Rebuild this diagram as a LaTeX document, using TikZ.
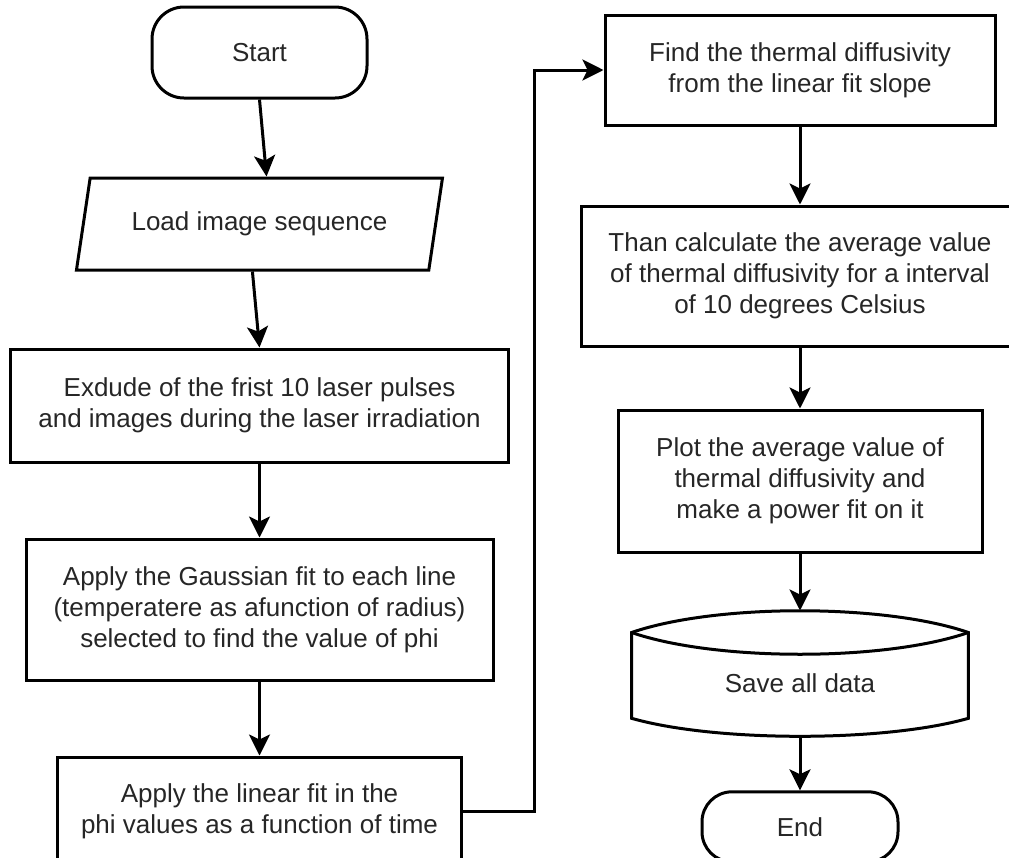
\documentclass[tikz,border=0pt]{standalone}
\usepackage{fontspec}
\setmainfont{Liberation Sans}
\usetikzlibrary{positioning, shapes.geometric, arrows.meta, calc}

\begin{document}
\begin{tikzpicture}[
    % Styles
    terminal/.style={
        rectangle,
        rounded corners=16pt,
        draw,
        line width=1.5pt,
        text=black!85,
        font=\fontsize{13}{15.5}\selectfont
    },
    io/.style={
        trapezium,
        trapezium left angle=70,
        trapezium right angle=110,
        trapezium stretches body,
        draw,
        line width=1.5pt,
        text=black!85,
        font=\fontsize{13}{15.5}\selectfont
    },
    process/.style={
        rectangle,
        draw,
        line width=1.5pt,
        align=center,
        text=black!85,
        font=\fontsize{13}{15.5}\selectfont
    },
    storage/.style={
        rectangle,
        text height=19pt,
        text depth=0pt,
        text=black!85,
        font=\fontsize{13}{15.5}\selectfont
    },
    arrow/.style={
        -{Stealth[length=10.5pt, width=10.5pt, inset=2.5pt]},
        line width=1.5pt
    }
]
    \useasboundingbox (0,0) rectangle (504.5pt,-429pt);

    % Left column
    \node[terminal, minimum width=107.5pt, minimum height=45.5pt] (start) at (129.75pt,-26.25pt) {Start};
    \node[io, minimum width=183pt, minimum height=46pt, below=38.5pt of start] (load) {Load image sequence};
    \node[process, minimum width=249pt, minimum height=56.5pt, below=38pt of load] (exclude)
        {Exdude of the frist 10 laser pulses\\and images during the laser irradiation};
    \node[process, minimum width=233.5pt, minimum height=70.5pt, below=37pt of exclude] (gauss)
        {Apply the Gaussian fit to each line\\(temperatere as afunction of radius)\\selected to find the value of phi};
    \node[process, minimum width=202pt, minimum height=54pt, below=37pt of gauss] (linear)
        {Apply the linear fit in the\\phi values as a function of time};

    % Right column
    \node[process, minimum width=195pt, minimum height=55pt] (find) at (400pt,-35pt)
        {Find the thermal diffusivity\\from the linear fit slope};
    \node[process, minimum width=219pt, minimum height=70pt, below=39pt of find] (average)
        {Than calculate the average value\\of thermal diffusivity for a interval\\of 10 degrees Celsius};
    \node[process, minimum width=182pt, minimum height=71pt, below=30.5pt of average] (plot)
        {Plot the average value of\\thermal diffusivity and\\make a power fit on it};
    \node[storage, minimum width=168pt, minimum height=62.5pt, below=28.5pt of plot] (save) {Save all data};
    \node[terminal, rounded corners=15pt, minimum width=98pt, minimum height=35pt, below=27pt of save] (end) {End};

    % Storage outline
    \draw[line width=1.5pt]
        ([yshift=-11pt]save.north west)
        .. controls ([xshift=42pt, yshift=3.5pt]save.north west) and ([xshift=-42pt, yshift=3.5pt]save.north east)
        .. ([yshift=-11pt]save.north east)
        -- ([yshift=9pt]save.south east)
        .. controls ([xshift=-42pt, yshift=-3pt]save.south east) and ([xshift=42pt, yshift=-3pt]save.south west)
        .. ([yshift=9pt]save.south west)
        -- cycle;
    \draw[line width=1.5pt]
        ([yshift=-11pt]save.north west)
        .. controls ([xshift=42pt, yshift=-25.5pt]save.north west) and ([xshift=-42pt, yshift=-25.5pt]save.north east)
        .. ([yshift=-11pt]save.north east);

    % Paths
    \draw[arrow] (start.south) -- (load.top side);
    \draw[arrow] (load.bottom side) -- (exclude.north);
    \draw[arrow] (exclude) -- (gauss);
    \draw[arrow] (gauss) -- (linear);
    \draw[arrow] (linear.east) -- ++(35.5pt,0) |- (find.west);
    \draw[arrow] (find) -- (average);
    \draw[arrow] (average) -- (plot);
    \draw[arrow] (plot) -- (save);
    \draw[arrow] (save) -- (end);
\end{tikzpicture}
\end{document}
